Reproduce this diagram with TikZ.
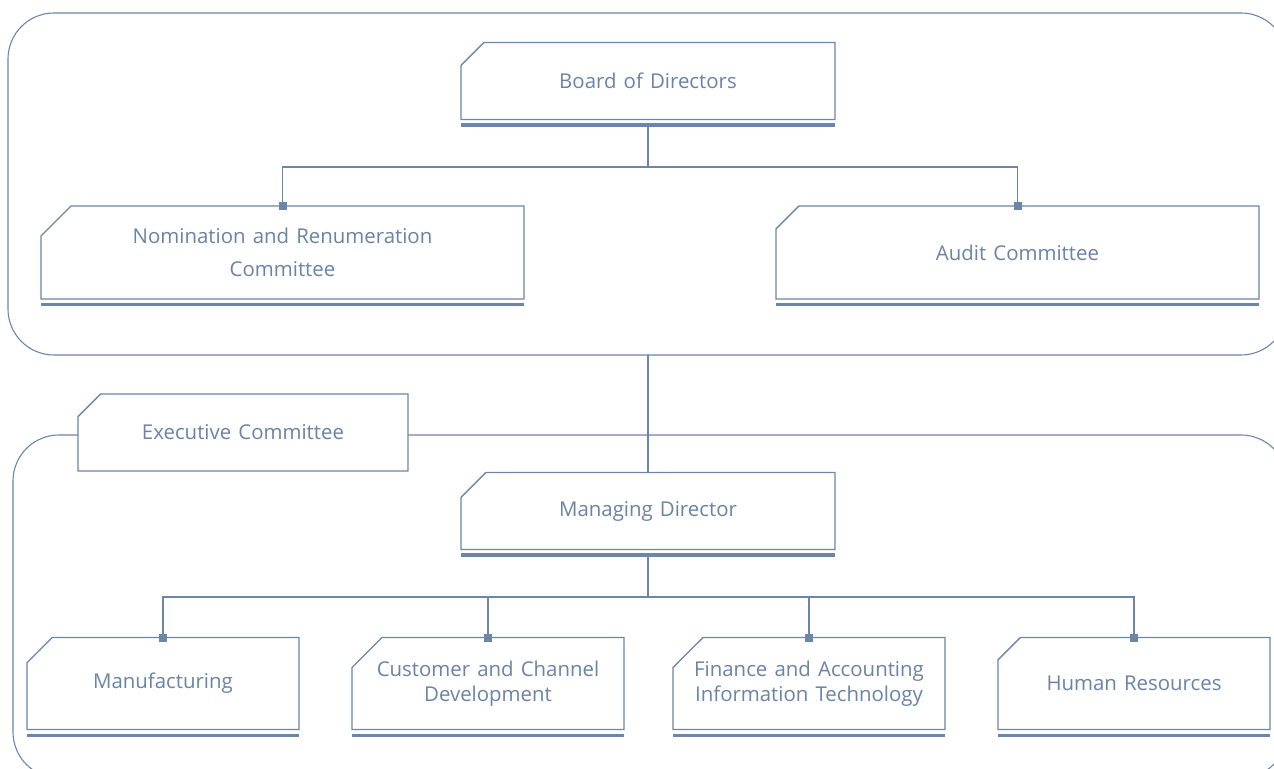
\documentclass[tikz,border=0pt]{standalone}
\usepackage{fontspec}
\setmainfont[WordSpace=1.35]{Open Sans}
\usetikzlibrary{arrows.meta,positioning,shapes.misc}
\definecolor{Slate}{HTML}{6C86A8}
\definecolor{SlateText}{HTML}{6A83A6}

\begin{document}
\begin{tikzpicture}[x=0.5pt,y=-0.5pt,
unit/.style={chamfered rectangle,chamfered rectangle corners=north west,
  chamfered rectangle xsep=7.5pt,chamfered rectangle ysep=7.5pt,
  draw=Slate,line width=0.7pt,fill=white,inner sep=0pt,outer sep=0pt,
  align=center,text=SlateText,font=\fontsize{10.2}{16.5}\selectfont},
dept/.style={unit,minimum width=136pt,minimum height=46pt,
  font=\fontsize{10.2}{12.8}\selectfont},
link/.style={draw=Slate,line width=0.55pt},
tee/.style={link,-{Square[length=4pt,width=4pt]},shorten >=-2pt},
frame/.style={draw=Slate,line width=0.55pt,rounded corners=23pt},
underline/.style={draw=Slate,line width=1.6pt}]
\clip (0,0) rectangle (1274,769);
% group frames
\draw[frame] (8,13) rectangle (1287,355);
\draw[frame] (13,435) rectangle (1287,778);
% board level
\node[unit,minimum width=187pt,minimum height=38.5pt] (bod) at (648,81) {Board of Directors};
\node[unit,minimum width=241.5pt,minimum height=46.5pt] (nom) at (282.5,252.5) {Nomination and Renumeration\\Committee};
\node[unit,minimum width=241.5pt,minimum height=46.5pt] (aud) at (1017.5,252.5) {Audit Committee};
% executive level
\node[unit,minimum width=165pt,minimum height=38.5pt] (exe) at (243,432.5) {Executive Committee};
\node[unit,minimum width=187pt,minimum height=38.5pt] (md) at (648,511) {Managing Director};
\node[dept] (man) at (163,683.5) {Manufacturing};
\node[dept] (cus) at (488,683.5) {Customer and Channel\\Development};
\node[dept] (fin) at (809,683.5) {Finance and Accounting\\Information Technology};
\node[dept] (hr) at (1134,683.5) {Human Resources};
\foreach \n in {bod,nom,aud,md,man,cus,fin,hr}
  \draw[underline] ([yshift=-2.8pt]\n.south west) -- ([yshift=-2.8pt]\n.south east);
% connectors
\coordinate (topbus) at (648,167);
\coordinate (boardfoot) at (648,355);
\coordinate (opsbus) at (648,597);
\draw[link] ([yshift=-4pt]bod.south) -- (topbus);
\draw[tee] (topbus) -| (nom.north);
\draw[tee] (topbus) -| (aud.north);
\draw[link] (boardfoot) -- (md.north);
\draw[link] ([yshift=-4pt]md.south) -- (opsbus);
\foreach \n in {man,cus,fin,hr}
  \draw[tee] (opsbus) -| (\n.north);
\end{tikzpicture}
\end{document}
